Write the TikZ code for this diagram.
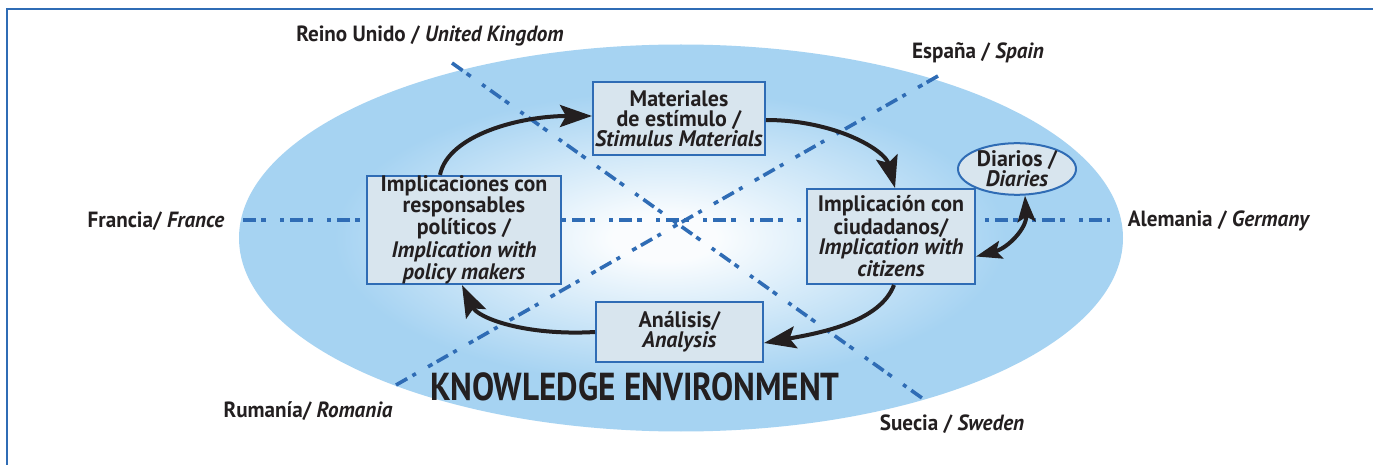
\documentclass[tikz,border=0pt]{standalone}
\usepackage{fontspec}
\setmainfont{PT Sans}[FakeStretch=0.96]
\newfontfamily\kefont{PT Sans}[FakeStretch=0.85]
\newfontfamily\boxfont{PT Sans}[FakeStretch=0.98]
\usetikzlibrary{arrows.meta,calc,shapes.geometric}
\definecolor{kblue}{HTML}{A6D3F2}
\colorlet{kwhite}{white!94!kblue}
\definecolor{lineblue}{HTML}{2F6CB5}
\definecolor{boxfill}{HTML}{D8E5EE}
\definecolor{txt}{HTML}{231F20}
\pgfdeclareradialshading{kenv}{\pgfpoint{-1bp}{0bp}}{color(0bp)=(kwhite); color(3bp)=(kwhite); color(19bp)=(kblue); color(50bp)=(kblue)}
\begin{document}
\begin{tikzpicture}[x=0.5pt,y=-0.5pt,
  lbl/.style={text=txt, font=\fontsize{11}{12}\selectfont\bfseries, inner sep=0pt},
  box/.style={draw=lineblue, line width=1pt, fill=boxfill, text=txt, align=center, inner sep=0pt, font=\boxfont\fontsize{11.2}{10.1}\selectfont\bfseries},
  dd/.style={draw=lineblue, line width=1.8pt, dash pattern=on 6.5pt off 2.5pt on 2.5pt off 7pt on 2pt off 3pt},
  arr/.style={draw=txt, line width=2pt, -{Stealth[length=16pt,width=11pt,inset=3pt]}},
  darr/.style={draw=txt, line width=2pt, {Stealth[length=13pt,width=9pt,inset=2.5pt]}-{Stealth[length=13pt,width=9pt,inset=2.5pt]}}]
\useasboundingbox (0,0) rectangle (1373,465);
\fill[white] (0,0) rectangle (1373,465);
% frame
\draw[lineblue, line width=1pt] (7,470) -- (7,9) -- (1380,9);
% knowledge environment ellipse
\shade[shading=kenv] (681,238) ellipse [x radius=221pt, y radius=96.75pt];
% dash-dot lines
\coordinate (h1) at (243,220);
\coordinate (h2) at (1110,220);
\coordinate (uk1) at (452,63);
\coordinate (uk2) at (922,398);
\coordinate (es1) at (938,76);
\coordinate (es2) at (396,385);
\draw[dd] (h1) -- (h2);
\draw[dd] (uk1) -- (uk2);
\draw[dd] (es1) -- (es2);
% labels
\node[lbl] (uk) at (430,36) {Reino Unido / \textit{United Kingdom}};
\node[lbl] (es) at (978,53) {España / \textit{Spain}};
\node[lbl] (fr) at (156,221) {Francia/ \textit{France}};
\node[lbl] (de) at (1219,221) {Alemania / \textit{Germany}};
\node[lbl] (ro) at (308,411) {Rumanía/ \textit{Romania}};
\node[lbl] (se) at (952,424) {Suecia / \textit{Sweden}};
\node[text=txt, inner sep=0pt, font=\kefont\fontsize{19.5}{20}\selectfont\bfseries] (ke) at (635,387) {KNOWLEDGE ENVIRONMENT};
% boxes
\node[box, minimum width=86pt, minimum height=36.5pt] (mat) at (679,118.5) {Materiales\\de estímulo /\\\textit{Stimulus Materials}};
\node[box, minimum width=97pt, minimum height=53pt] (pol) at (464,230) {Implicaciones con\\responsables\\políticos /\\\textit{Implication with}\\\textit{policy makers}};
\node[box, minimum width=84pt, minimum height=47.5pt] (cit) at (891,236.5) {Implicación con\\ciudadanos/\\\textit{Implication with}\\\textit{citizens}};
\node[box, minimum width=83.5pt, minimum height=30pt] (ana) at (679.5,332) {Análisis/\\\textit{Analysis}};
\node[box, ellipse, minimum width=59pt, minimum height=24pt] (dia) at (1017,169) {Diarios /\\\textit{Diaries}};
% cycle arrows
\draw[arr] ([xshift=-12pt]pol.north) .. controls (448,135) and (520,116) .. ([yshift=1.25pt]mat.west);
\draw[arr] ([yshift=-0.75pt]mat.east) .. controls (835,120) and (885,150) .. ([xshift=2pt]cit.north);
\draw[arr] ([xshift=1.5pt]cit.south) .. controls (880,322) and (820,333) .. ([yshift=-5.5pt]ana.east);
\draw[arr] (ana.west) .. controls (525,336) and (478,318) .. ([xshift=-1pt]pol.south);
\draw[darr] ([yshift=-10pt]cit.east) .. controls (1008,248) and (1027,228) .. ([xshift=4pt]dia.south);
\end{tikzpicture}
\end{document}
